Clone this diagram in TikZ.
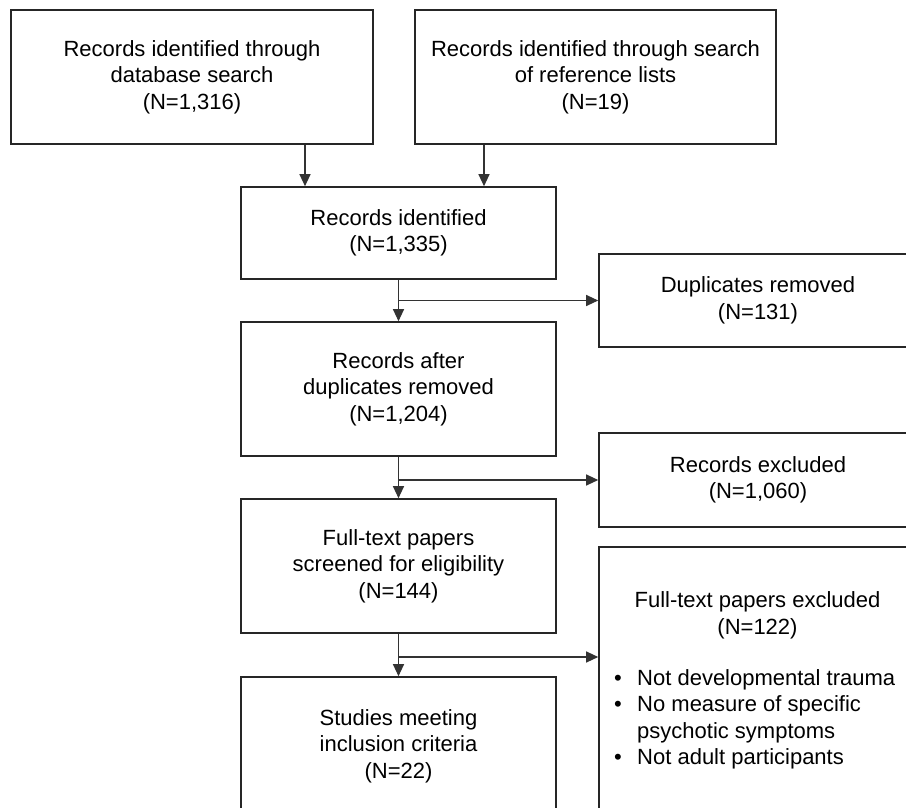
\documentclass[tikz,border=0pt]{standalone}
\usepackage{fontspec}
\setmainfont{Liberation Sans}
\usepackage{tikz}
\usetikzlibrary{positioning,arrows.meta}

\begin{document}
\begin{tikzpicture}[x=1pt,y=-1pt,
    box/.style={draw=black!85,line width=1.6pt,inner sep=0pt,align=center,
      font=\fontsize{22}{26.5}\selectfont},
    txt/.style={inner sep=0pt,align=center,font=\fontsize{22}{26.5}\selectfont},
    arr/.style={draw=black!80,line width=1.2pt,-{Triangle[length=12pt,width=11pt]}}]
  % frame
  \path[use as bounding box,clip] (0,0) rectangle (906,808);
  % identification
  \node[box,minimum width=362pt,minimum height=134pt] (recA) at (192,77)
    {Records identified through\\database search\\(N=1,316)};
  \node[box,minimum width=361pt,minimum height=134pt] (recB) at (595.5,77)
    {Records identified through search\\of reference lists\\(N=19)};
  \node[box,minimum width=315pt,minimum height=92pt] (recC) at (398.5,233)
    {Records identified\\(N=1,335)};
  % screening
  \node[box,minimum width=315pt,minimum height=134pt] (recD) at (398.5,389)
    {Records after\\duplicates removed\\(N=1,204)};
  \node[box,minimum width=318pt,minimum height=93pt] (dup) at (758,300.5)
    {Duplicates removed\\(N=131)};
  \node[box,minimum width=318pt,minimum height=94pt] (rexc) at (758,480)
    {Records excluded\\(N=1,060)};
  % eligibility
  \node[box,minimum width=315pt,minimum height=134pt] (full) at (398.5,566)
    {Full-text papers\\screened for eligibility\\(N=144)};
  \node[box,minimum width=318pt,minimum height=268pt] (ftex) at (758,681) {};
  \node[txt] (ftexhead) at (757.5,615.5) {Full-text papers excluded\\(N=122)};
  \node[txt,anchor=north west,align=left] (ftexlist) at (614,666.5)
    {\begin{tabular}{@{}p{23pt}@{}l@{}}
      \textbullet & Not developmental trauma\\
      \textbullet & No measure of specific\\
                  & psychotic symptoms\\
      \textbullet & Not adult participants
    \end{tabular}};
  % included
  \node[box,minimum width=315pt,minimum height=138pt] (incl) at (398.5,746)
    {Studies meeting\\inclusion criteria\\(N=22)};
  % arrows
  \coordinate (tapA) at (305,0);
  \coordinate (tapB) at (484,0);
  \coordinate (tapF) at (398.5,657);
  \draw[arr] (recA.south -| tapA) -- (tapA |- recC.north);
  \draw[arr] (recB.south -| tapB) -- (tapB |- recC.north);
  \draw[arr] (recC.south) -- (recD.north);
  \draw[arr] (recC.south |- dup.west) -- (dup.west);
  \draw[arr] (recD.south) -- (full.north);
  \draw[arr] (recD.south |- rexc.west) -- (rexc.west);
  \draw[arr] (full.south) -- (incl.north);
  \draw[arr] (tapF) -- (tapF -| ftex.west);
\end{tikzpicture}
\end{document}
